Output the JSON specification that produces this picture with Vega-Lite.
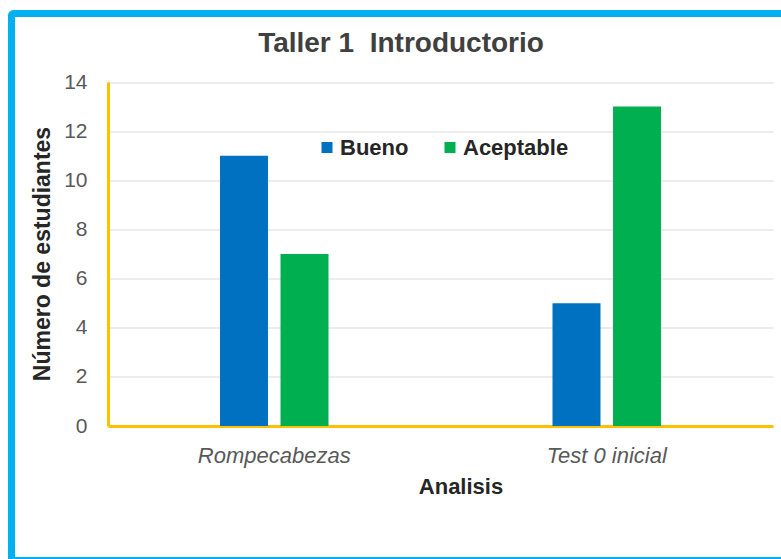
{
  "$schema": "https://vega.github.io/schema/vega-lite/v6.json",
  "autosize": {"type": "none"},
  "padding": {"left": 11.5, "top": 13.5, "right": -5.5, "bottom": -1.5},
  "width": 775,
  "height": 547,
  "background": "white",
  "config": {
    "view": {"stroke": "#00B0F0", "strokeWidth": 7, "cornerRadius": 2},
    "font": "Liberation Sans"
  },
  "title": {
    "text": "Taller 1\u00a0 Introductorio",
    "frame": "group",
    "anchor": "middle",
    "baseline": "alphabetic",
    "offset": -66,
    "dx": 2,
    "font": "Liberation Sans",
    "fontSize": 28,
    "fontWeight": "bold",
    "color": "#404040"
  },
  "data": {
    "values": [
      {"cat": "Rompecabezas", "grupo": "Bueno", "valor": 11},
      {"cat": "Rompecabezas", "grupo": "Aceptable", "valor": 7},
      {"cat": "Test 0 inicial", "grupo": "Bueno", "valor": 5},
      {"cat": "Test 0 inicial", "grupo": "Aceptable", "valor": 13}
    ]
  },
  "mark": {"type": "bar"},
  "encoding": {
    "x": {
      "field": "cat",
      "type": "nominal",
      "sort": ["Rompecabezas", "Test 0 inicial"],
      "scale": {"range": [96.5, 761.5], "paddingInner": 0, "paddingOuter": 0},
      "axis": {
        "title": "Analisis",
        "offset": -134.5,
        "domainColor": "#FFC000",
        "domainWidth": 3,
        "ticks": false,
        "tickSize": 0,
        "grid": false,
        "labelAngle": 0,
        "labelFont": "Liberation Sans",
        "labelFontSize": 22,
        "labelFontStyle": "italic",
        "labelColor": "#595959",
        "labelBaseline": "alphabetic",
        "labelPadding": 36.5,
        "titleFont": "Liberation Sans",
        "titleFontSize": 22,
        "titleFontWeight": "bold",
        "titleColor": "#262626",
        "titleBaseline": "alphabetic",
        "titleAlign": "center",
        "titleX": 449,
        "titleY": 67
      }
    },
    "xOffset": {
      "field": "grupo",
      "type": "nominal",
      "sort": ["Bueno", "Aceptable"],
      "scale": {"range": [112, 220.5], "paddingInner": 0.207, "paddingOuter": 0}
    },
    "y": {
      "field": "valor",
      "type": "quantitative",
      "scale": {"domain": [0, 14], "nice": false, "range": [412.5, 68.5]},
      "axis": {
        "title": "Número de estudiantes",
        "offset": -96.5,
        "values": [0, 2, 4, 6, 8, 10, 12, 14],
        "domainColor": "#FFC000",
        "domainWidth": 3,
        "ticks": false,
        "tickSize": 0,
        "grid": true,
        "gridColor": "#D9D9D9",
        "gridWidth": 1,
        "labelFont": "Liberation Sans",
        "labelFontSize": 21,
        "labelColor": "#595959",
        "labelPadding": 21,
        "titleFont": "Liberation Sans",
        "titleFontSize": 23,
        "titleFontWeight": "bold",
        "titleColor": "#262626",
        "titleBaseline": "alphabetic",
        "titleAlign": "center",
        "titleAngle": -90,
        "titleX": -59,
        "titleY": 240
      }
    },
    "color": {
      "field": "grupo",
      "type": "nominal",
      "sort": ["Bueno", "Aceptable"],
      "scale": {"domain": ["Bueno", "Aceptable"], "range": ["#0070C0", "#00B050"]},
      "legend": {
        "title": null,
        "orient": "none",
        "legendX": 304.5,
        "legendY": 123,
        "direction": "horizontal",
        "padding": 0,
        "symbolType": "square",
        "symbolSize": 121,
        "symbolStrokeWidth": 0,
        "labelFont": "Liberation Sans",
        "labelFontSize": 22,
        "labelFontWeight": "bold",
        "labelColor": "#262626",
        "labelOffset": 2,
        "columnPadding": 30
      }
    }
  }
}
